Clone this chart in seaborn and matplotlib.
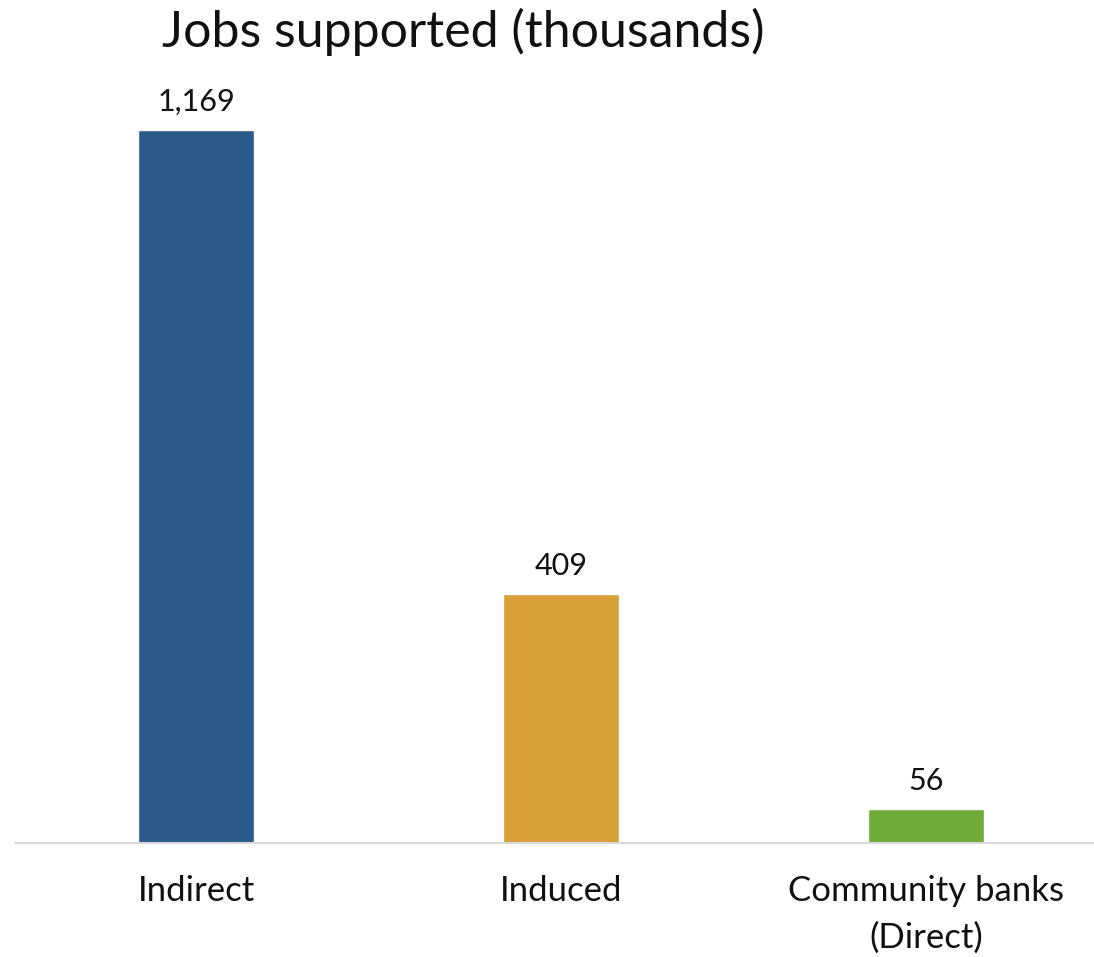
import matplotlib
matplotlib.use("Agg")
import matplotlib.pyplot as plt
import seaborn as sns
import pandas as pd

categories = ["Indirect", "Induced", "Community banks\n(Direct)"]
values = [1169, 409, 56]
colors = ["#2A5A8A", "#D99F38", "#6FAB38"]
title = "Jobs supported (thousands)"

sns.set_theme(style="white")
plt.rcParams['font.family'] = ['Lato', 'DejaVu Sans']

df = pd.DataFrame({"cat": categories, "val": values})

fig = plt.figure(figsize=(10.94, 9.57), dpi=100)
ax = fig.add_axes([15/1094, (957-843)/957, 1 - 15/1094, (843-100)/957])

sns.barplot(data=df, x="cat", y="val", hue="cat", palette=colors, legend=False,
            width=0.318, ax=ax, saturation=1)

ax.set_xlim(-0.496, 2.46)
ax.set_ylim(0, 1218)
for c in ax.containers:
    ax.bar_label(c, labels=[f"{v:,.0f}" for v in c.datavalues], padding=10, fontsize=22, color="#111111")

ax.set_xlabel("")
ax.set_ylabel("")
ax.set_yticks([])
for s in ["top", "right", "left"]:
    ax.spines[s].set_visible(False)
ax.spines["bottom"].set_color("#d9d9d9")
ax.spines["bottom"].set_linewidth(1.5)
ax.tick_params(axis="x", length=0, pad=23, labelsize=25, labelcolor="#111111")
for t in ax.get_xticklabels():
    t.set_linespacing(1.55)
    t.set_verticalalignment("top")

fig.text(463/1094, 1 - 32/957, title, ha="center", va="center", fontsize=36, color="#111111")

fig.savefig("out.png", dpi=100)
